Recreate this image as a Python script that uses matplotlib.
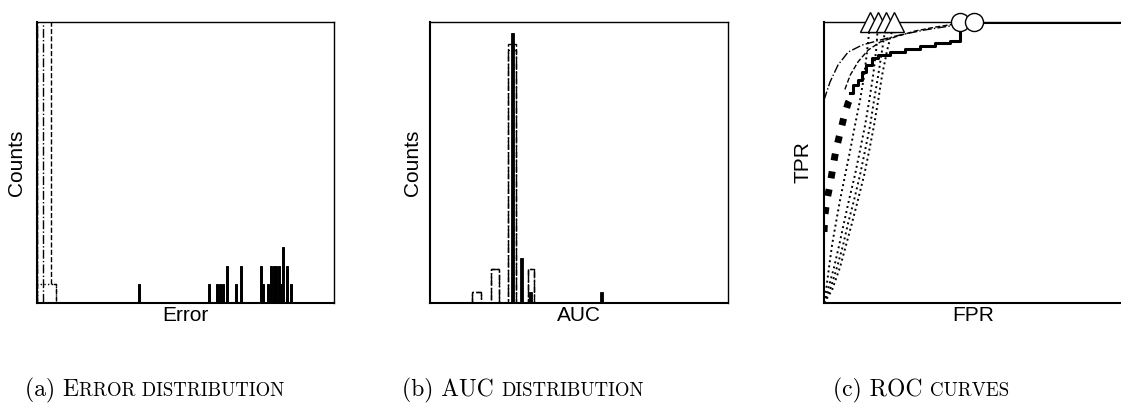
#!/usr/bin/env python3
"""Error / AUC distributions and ROC curves, three panels side by side."""
import matplotlib
matplotlib.use("Agg")
import matplotlib.pyplot as plt

# (a) error distribution -- solid method, bin centres and counts
err_centres = [0.343, 0.579, 0.606, 0.616, 0.626, 0.640, 0.670, 0.687,
               0.754, 0.761, 0.778, 0.788, 0.798, 0.806, 0.815, 0.822,
               0.828, 0.842, 0.855]
err_counts = [1, 1, 1, 1, 1, 2, 1, 2, 2, 1, 1, 2, 2, 2, 2, 1, 3, 2, 1]
# other methods, drawn as outlines (heights past the top are clipped)
err_dash_edges = [0.0, 0.046, 0.063]
err_dash_counts = [40, 1]
err_dashdot_edges = [0.0, 0.021]
err_dashdot_counts = [40]
err_dot_edges = [0.0, 0.007, 0.014, 0.021, 0.063]
err_dot_counts = [1, 1, 1, 1]

# (b) AUC distribution
auc_centres = [0.278, 0.306, 0.336, 0.575]
auc_counts = [24, 4, 1, 1]
auc_edges = [0.142, 0.171, 0.205, 0.233, 0.263, 0.289, 0.328, 0.350]
auc_dash_counts = [1, 0, 3, 0, 23, 0, 3]
auc_dashdot_counts = [1, 0, 3, 0, 22.5, 0, 3]

# (c) ROC curves
tpr_dot = [0, .046, .128, .206, .285, .367, .456, .544, .633, .722, .811, .900, 1.0]
fpr_dot_a = [0, .007, .017, .027, .040, .054, .071, .088, .104, .121, .135, .145, .155]
fpr_dot_b = [0, .013, .034, .051, .067, .084, .104, .121, .138, .152, .165, .175, .182]
fpr_dot_c = [0, .020, .044, .064, .081, .101, .121, .138, .155, .168, .182, .195, .209]
fpr_dot_d = [0, .027, .054, .074, .094, .114, .135, .152, .168, .182, .195, .212, .236]

fpr_thick = [0, .003, .010, .020, .030, .040, .054, .067, .081, .098]
tpr_thick = [.253, .313, .367, .420, .484, .544, .605, .662, .712, .747]

fpr_solid = [.088, .098, .098, .114, .114, .128, .128, .141, .141, .162, .162,
             .182, .182, .222, .222, .273, .273, .323, .323, .374, .374, .424,
             .424, .455, .455, 1.0]
tpr_solid = [.747, .747, .776, .776, .794, .794, .822, .822, .847, .847, .872,
             .872, .883, .883, .893, .893, .904, .904, .915, .915, .925, .925,
             .932, .932, 1.0, 1.0]

fpr_dashdot = [0, .020, .047, .081, .128, .189, .256, .340, .424, .502]
tpr_dashdot = [.722, .786, .847, .893, .918, .936, .954, .972, .986, 1.0]

fpr_dash = [.070, .088, .114, .148, .189, .239, .306, .374, .441, .502]
tpr_dash = [.760, .811, .858, .900, .929, .947, .968, .982, .993, 1.0]

W, H = 1121, 405
fig = plt.figure(figsize=(W / 100, H / 100), dpi=100)

label_font = dict(family="Liberation Sans", fontsize=15)
cap_font = "cmr10"


def frame(ax):
    ax.set_xticks([])
    ax.set_yticks([])
    for side in ["top", "right"]:
        ax.spines[side].set_linewidth(1.0)
    for side in ["left", "bottom"]:
        ax.spines[side].set_linewidth(1.5)


def caption(ax, x, big, small):
    # fake small caps: full size capitals, then smaller upper case
    y = 0.022
    t1 = fig.text(x / W, y, big, family=cap_font, fontsize=17, va="baseline")
    ax.annotate(small, xy=(1, y), xycoords=(t1, "figure fraction"),
                family=cap_font, fontsize=13.6, va="baseline", ha="left",
                annotation_clip=False)


bottom = (H - 303) / H
height = 281 / H

# (a)
ax_a = fig.add_axes([37 / W, bottom, 297 / W, height])
ax_a.bar(err_centres, err_counts, width=0.006, color="black",
         edgecolor="black", linewidth=0.7)
ax_a.stairs(err_dash_counts, err_dash_edges, color="black", linestyle="--", lw=1)
ax_a.stairs(err_dashdot_counts, err_dashdot_edges, color="black",
            linestyle="-.", lw=1)
ax_a.stairs(err_dot_counts, err_dot_edges, color="black", linestyle=":", lw=1)
ax_a.set_xlim(0, 1)
ax_a.set_ylim(0, 15)
frame(ax_a)
ax_a.set_xlabel("Error", labelpad=2, **label_font)
ax_a.set_ylabel("Counts", labelpad=8, **label_font)
caption(ax_a, 25, "(a) E", "RROR DISTRIBUTION")

# (b)
ax_b = fig.add_axes([430 / W, bottom, 298 / W, height])
ax_b.bar(auc_centres, auc_counts, width=0.01, color="black",
         edgecolor="black", linewidth=0.6, zorder=3)
ax_b.stairs(auc_dash_counts, auc_edges, color="black", linestyle="--", lw=1)
ax_b.stairs(auc_dashdot_counts, auc_edges, color="black", linestyle="-.", lw=1)
ax_b.set_xlim(0, 1)
ax_b.set_ylim(0, 25)
frame(ax_b)
ax_b.set_xlabel("AUC", labelpad=2, **label_font)
ax_b.set_ylabel("Counts", labelpad=6, **label_font)
caption(ax_b, 402, "(b) AUC ", "DISTRIBUTION")

# (c)
ax_c = fig.add_axes([824 / W, bottom, 298 / W, height])
for fpr in [fpr_dot_a, fpr_dot_b, fpr_dot_c, fpr_dot_d]:
    ax_c.plot(fpr, tpr_dot, color="black", linestyle=":", lw=1.4)
    ax_c.plot(fpr[-1], tpr_dot[-1], marker="^", ms=14, mfc="white",
              mec="black", mew=1, clip_on=False, zorder=5)
ax_c.plot(fpr_thick, tpr_thick, color="black", linestyle=(0, (1, 1.6)), lw=5)
ax_c.plot(fpr_dashdot, tpr_dashdot, color="black", linestyle="-.", lw=1)
ax_c.plot(fpr_dash, tpr_dash, color="black", linestyle="--", lw=1)
ax_c.plot(fpr_solid, tpr_solid, color="black", lw=2.2)
ax_c.plot(fpr_solid[-2], tpr_solid[-2], marker="o", ms=13, mfc="white",
          mec="black", mew=1, clip_on=False, zorder=5)
ax_c.plot(fpr_dashdot[-1], tpr_dashdot[-1], marker="o", ms=13, mfc="white",
          mec="black", mew=1, clip_on=False, zorder=5)
ax_c.set_xlim(0, 1)
ax_c.set_ylim(0, 1)
frame(ax_c)
ax_c.set_xlabel("FPR", labelpad=2, **label_font)
ax_c.set_ylabel("TPR", labelpad=8, **label_font)
caption(ax_c, 833, "(c) ROC ", "CURVES")

fig.savefig("out.png", dpi=100)
